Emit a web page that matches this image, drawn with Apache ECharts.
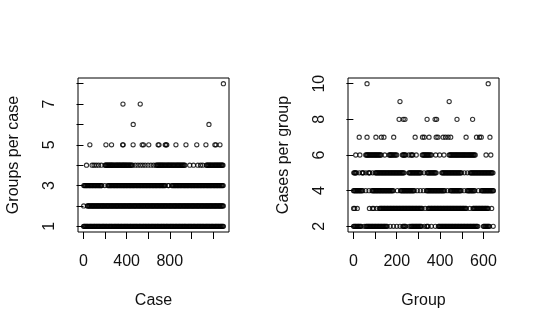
<!DOCTYPE html>
<html>
<head>
<meta charset="utf-8">
<script src="https://cdn.jsdelivr.net/npm/echarts@6/dist/echarts.min.js"></script>
<style>
  html, body { margin: 0; padding: 0; background: #fff; }
  #chart { width: 540px; height: 330px; }
</style>
</head>
<body>
<div id="chart"></div>
<script>
// ---------- Left panel: Groups per case (x = case index, grouped by y level) ----------
const casesWith1Group = [1, 7, 13, 20, 27, 33, 40, 48, 56, 62, 69, 76, 83, 90, 98, 104, 110, 118, 125, 132, 139, 145, 152, 160, 168, 174, 181, 187, 194, 201, 209, 215, 222, 230, 238, 244, 251, 257, 264, 272, 280, 286, 293, 300, 307, 314, 321, 327, 334, 342, 349, 355, 362, 370, 377, 384, 391, 397, 404, 411, 418, 426, 433, 439, 446, 453, 460, 468, 475, 481, 488, 495, 502, 510, 517, 523, 530, 537, 544, 552, 559, 565, 572, 579, 586, 593, 600, 606, 613, 621, 628, 635, 642, 648, 655, 663, 670, 677, 684, 690, 697, 704, 711, 719, 726, 732, 739, 746, 753, 761, 768, 774, 781, 788, 795, 803, 810, 816, 823, 830, 837, 845, 852, 858, 865, 872, 879, 886, 893, 899, 906, 914, 921, 928, 935, 941, 948, 955, 962, 970, 977, 983, 990, 997, 1004, 1012, 1019, 1025, 1032, 1039, 1046, 1054, 1061, 1067, 1074, 1081, 1088, 1095, 1102, 1108, 1115, 1123, 1130, 1137, 1144, 1150, 1157, 1164, 1171, 1179, 1186, 1192, 1199, 1206, 1213, 1221, 1228, 1234, 1241, 1248, 1255, 1263, 1270, 1276, 1283, 1290, 1297];
const casesWith2Groups = [2, 36, 42, 49, 56, 63, 71, 78, 84, 91, 98, 105, 112, 119, 126, 133, 139, 146, 154, 161, 168, 175, 181, 188, 195, 202, 210, 217, 223, 230, 237, 244, 252, 259, 265, 272, 279, 286, 294, 301, 307, 314, 321, 328, 336, 343, 349, 356, 363, 370, 377, 384, 390, 397, 405, 412, 419, 426, 432, 439, 446, 453, 461, 468, 474, 481, 488, 495, 503, 510, 516, 523, 530, 537, 544, 551, 557, 564, 572, 579, 586, 593, 599, 606, 613, 621, 628, 635, 641, 648, 655, 662, 670, 677, 683, 690, 697, 704, 712, 719, 725, 732, 739, 746, 753, 760, 766, 773, 781, 788, 795, 802, 808, 815, 822, 830, 837, 844, 850, 857, 864, 871, 879, 886, 892, 899, 906, 913, 921, 928, 934, 941, 948, 955, 962, 969, 975, 982, 990, 997, 1004, 1011, 1017, 1024, 1031, 1039, 1046, 1053, 1059, 1066, 1073, 1080, 1088, 1095, 1101, 1108, 1115, 1122, 1130, 1137, 1143, 1150, 1157, 1164, 1171, 1178, 1184, 1191, 1199, 1206, 1213, 1220, 1226, 1233, 1240, 1248, 1255, 1262, 1268, 1275, 1282, 1289, 1296];
const casesWith3Groups = [3, 10, 17, 24, 31, 38, 45, 53, 60, 67, 74, 81, 88, 96, 103, 109, 116, 124, 131, 138, 145, 152, 159, 165, 170, 198, 226, 233, 240, 247, 254, 261, 268, 276, 283, 290, 297, 304, 311, 318, 325, 332, 339, 347, 354, 361, 368, 375, 382, 389, 396, 403, 410, 418, 425, 432, 439, 446, 453, 460, 467, 474, 481, 489, 496, 503, 510, 517, 524, 531, 538, 545, 552, 560, 567, 574, 581, 588, 595, 602, 609, 616, 623, 631, 638, 645, 652, 659, 666, 673, 680, 687, 694, 702, 709, 716, 723, 730, 737, 744, 751, 758, 784, 790, 818, 826, 833, 840, 848, 855, 862, 869, 876, 883, 890, 897, 904, 911, 919, 926, 933, 940, 947, 954, 961, 968, 975, 982, 990, 997, 1004, 1011, 1018, 1025, 1032, 1039, 1046, 1053, 1061, 1068, 1075, 1082, 1089, 1096, 1103, 1110, 1117, 1124, 1132, 1139, 1146, 1153, 1160, 1167, 1174, 1181, 1188, 1195, 1203, 1210, 1217, 1224, 1231, 1238, 1245, 1252, 1259, 1266, 1274, 1281, 1288, 1295];
const casesWith4Groups = [28, 80, 98, 118, 140, 165, 200, 206, 212, 219, 225, 231, 238, 244, 250, 256, 262, 268, 275, 282, 290, 298, 305, 311, 318, 325, 332, 338, 345, 352, 360, 366, 372, 379, 386, 393, 400, 407, 415, 422, 430, 437, 445, 455, 480, 505, 528, 550, 572, 598, 625, 650, 672, 680, 688, 695, 702, 709, 716, 723, 730, 737, 745, 752, 760, 768, 776, 783, 790, 797, 805, 812, 820, 827, 835, 842, 850, 858, 866, 873, 880, 887, 895, 902, 910, 917, 925, 932, 940, 985, 1020, 1060, 1085, 1105, 1138, 1145, 1152, 1159, 1166, 1173, 1180, 1187, 1195, 1202, 1210, 1217, 1224, 1231, 1238, 1245, 1252, 1259, 1266, 1273, 1280, 1287, 1293];
const casesWith5Groups = [59, 208, 260, 363, 368, 460, 544, 556, 605, 692, 700, 758, 765, 772, 857, 950, 1050, 1135, 1218, 1228, 1265];
const casesWith6Groups = [461, 1163];
const casesWith7Groups = [366, 526];
const casesWith8Groups = [1297];

// ---------- Right panel: Cases per group (x = group index, grouped by y level) ----------
const groupsWith2Cases = [1, 4, 8, 11, 15, 18, 22, 25, 29, 32, 36, 50, 58, 61, 65, 68, 72, 75, 79, 82, 86, 89, 93, 96, 100, 103, 107, 110, 114, 117, 121, 124, 128, 131, 135, 138, 142, 145, 149, 152, 156, 170, 185, 200, 215, 228, 231, 235, 238, 242, 258, 265, 268, 272, 275, 279, 282, 286, 289, 293, 296, 300, 303, 307, 310, 314, 328, 338, 341, 345, 360, 378, 392, 395, 399, 402, 406, 409, 413, 416, 420, 423, 427, 430, 434, 437, 441, 444, 448, 451, 455, 458, 462, 465, 469, 472, 476, 479, 483, 486, 490, 493, 497, 500, 504, 507, 511, 514, 518, 521, 525, 528, 532, 535, 539, 542, 546, 549, 553, 556, 560, 563, 567, 570, 574, 600, 603, 607, 610, 614, 617, 621, 624, 628, 645];
const groupsWith3Cases = [1, 6, 18, 74, 88, 94, 108, 121, 124, 128, 131, 135, 138, 142, 145, 149, 152, 156, 159, 163, 166, 170, 173, 177, 180, 184, 187, 191, 194, 198, 201, 205, 208, 212, 215, 219, 222, 226, 229, 233, 236, 240, 243, 247, 250, 254, 257, 261, 264, 268, 271, 275, 278, 282, 285, 289, 292, 296, 299, 303, 306, 310, 313, 317, 331, 345, 348, 352, 355, 359, 362, 366, 369, 373, 376, 380, 383, 387, 390, 394, 397, 401, 404, 408, 411, 415, 418, 422, 425, 429, 432, 436, 439, 443, 446, 450, 453, 457, 460, 464, 467, 471, 474, 478, 481, 485, 488, 492, 495, 499, 502, 506, 509, 513, 517, 521, 537, 552, 555, 559, 562, 566, 569, 573, 576, 580, 583, 587, 590, 594, 597, 601, 604, 608, 611, 615, 618, 622, 638];
const groupsWith4Cases = [1, 4, 8, 11, 15, 18, 22, 25, 29, 32, 36, 39, 43, 57, 72, 86, 89, 93, 96, 100, 103, 107, 110, 114, 117, 121, 124, 128, 131, 135, 138, 142, 145, 149, 152, 156, 159, 163, 166, 170, 173, 177, 180, 184, 203, 218, 221, 225, 228, 232, 235, 239, 242, 246, 249, 253, 256, 260, 263, 267, 270, 274, 277, 281, 295, 309, 323, 337, 340, 344, 347, 351, 354, 358, 361, 365, 368, 372, 375, 379, 382, 386, 389, 393, 396, 400, 403, 407, 410, 414, 417, 421, 434, 448, 451, 455, 458, 462, 465, 469, 472, 476, 479, 483, 486, 490, 493, 497, 511, 525, 528, 532, 535, 539, 542, 546, 549, 553, 556, 560, 577, 591, 594, 598, 601, 605, 608, 612, 615, 619, 622, 626, 629, 633, 636, 640, 643, 646];
const groupsWith5Cases = [2, 5, 8, 11, 14, 27, 40, 43, 46, 58, 70, 73, 76, 89, 101, 104, 108, 111, 115, 118, 122, 125, 129, 132, 136, 139, 143, 146, 150, 153, 157, 160, 164, 167, 171, 174, 178, 181, 185, 188, 192, 195, 199, 202, 206, 209, 213, 216, 220, 223, 227, 230, 234, 256, 259, 263, 266, 270, 273, 277, 280, 284, 287, 291, 294, 298, 301, 305, 308, 312, 326, 340, 343, 347, 350, 354, 357, 361, 364, 368, 371, 375, 378, 382, 408, 411, 415, 418, 422, 425, 429, 432, 436, 439, 443, 446, 450, 453, 457, 460, 464, 467, 471, 474, 478, 481, 485, 488, 492, 495, 499, 512, 526, 539, 542, 546, 549, 553, 556, 560, 563, 567, 570, 574, 577, 581, 584, 588, 591, 595, 598, 602, 605, 609, 612, 616, 619, 623, 626, 630, 633, 637, 640, 644];
const groupsWith6Cases = [11, 30, 57, 61, 64, 68, 72, 76, 80, 84, 88, 92, 96, 100, 104, 108, 112, 116, 120, 124, 128, 145, 165, 169, 172, 176, 180, 185, 190, 195, 200, 226, 230, 233, 237, 241, 256, 266, 270, 274, 290, 318, 322, 326, 330, 334, 338, 342, 346, 350, 355, 360, 380, 398, 418, 442, 446, 450, 454, 458, 462, 466, 470, 474, 478, 482, 486, 490, 494, 498, 502, 506, 510, 514, 518, 522, 526, 530, 534, 538, 542, 546, 550, 554, 558, 562, 612, 634];
const groupsWith7Cases = [27, 63, 104, 129, 141, 186, 285, 319, 327, 349, 382, 390, 414, 425, 437, 449, 520, 568, 582, 590, 630];
const groupsWith8Cases = [211, 230, 238, 340, 377, 384, 478, 550];
const groupsWith9Cases = [215, 442];
const groupsWith10Cases = [63, 622];

// ---------- Axis ticks and labels ----------
const leftXTicks = [0, 200, 400, 600, 800, 1000, 1200];
const leftXLabels = [0, 400, 800];
const leftYTicks = [1, 2, 3, 4, 5, 6, 7, 8];
const leftYLabels = [1, 3, 5, 7];
const rightXTicks = [0, 100, 200, 300, 400, 500, 600];
const rightXLabels = [0, 200, 400, 600];
const rightYTicks = [2, 4, 6, 8, 10];
const rightYLabels = [2, 4, 6, 8, 10];

const leftLevels = [casesWith1Group, casesWith2Groups, casesWith3Groups, casesWith4Groups,
                    casesWith5Groups, casesWith6Groups, casesWith7Groups, casesWith8Groups];
const leftLevelValues = [1, 2, 3, 4, 5, 6, 7, 8];
const rightLevels = [groupsWith2Cases, groupsWith3Cases, groupsWith4Cases, groupsWith5Cases,
                     groupsWith6Cases, groupsWith7Cases, groupsWith8Cases, groupsWith9Cases, groupsWith10Cases];
const rightLevelValues = [2, 3, 4, 5, 6, 7, 8, 9, 10];

function toPoints(levels, values) {
  const pts = [];
  levels.forEach((arr, i) => arr.forEach(x => pts.push([x, values[i]])));
  return pts;
}
function extRange(vals) {
  const mn = Math.min(...vals), mx = Math.max(...vals);
  const d = (mx - mn) * 0.04;
  return [mn - d, mx + d];
}

const leftPts = toPoints(leftLevels, leftLevelValues);
const rightPts = toPoints(rightLevels, rightLevelValues);
const lx = extRange(leftPts.map(p => p[0]));
const ly = extRange(leftPts.map(p => p[1]));
const rx = extRange(rightPts.map(p => p[0]));
const ry = extRange(rightPts.map(p => p[1]));

const FONT = 'Liberation Sans, Arial, sans-serif';
const TXT = '#111';

function xAxisCfg(idx, range, ticks, labels, name) {
  return {
    type: 'value', gridIndex: idx, min: range[0], max: range[1],
    name: name, nameLocation: 'middle', nameGap: 61,
    nameTextStyle: { fontFamily: FONT, fontSize: 16, color: TXT },
    axisLine: { show: false },
    axisTick: { show: true, length: 7, customValues: ticks, lineStyle: { color: '#000', width: 1 } },
    axisLabel: { show: true, customValues: labels, margin: 22, fontFamily: FONT, fontSize: 16, color: TXT },
    splitLine: { show: false }
  };
}
function yAxisCfg(idx, range, ticks, labels, name) {
  return {
    type: 'value', gridIndex: idx, min: range[0], max: range[1],
    name: name, nameLocation: 'middle', nameGap: 56,
    nameTextStyle: { fontFamily: FONT, fontSize: 16, color: TXT },
    axisLine: { show: false },
    axisTick: { show: true, length: 7, customValues: ticks, lineStyle: { color: '#000', width: 1 } },
    axisLabel: { show: true, customValues: labels, rotate: 90, margin: 20, fontFamily: FONT, fontSize: 16, color: TXT },
    splitLine: { show: false }
  };
}

const pointStyle = { color: 'rgba(255,255,255,0)', borderColor: '#000', borderWidth: 1.1 };

const chart = echarts.init(document.getElementById('chart'), null, { renderer: 'canvas' });
chart.setOption({
  backgroundColor: '#fff',
  animation: false,
  grid: [
    { left: 78, top: 78, width: 151, height: 154, show: true, borderColor: '#000', borderWidth: 1, backgroundColor: 'transparent' },
    { left: 348, top: 78, width: 151, height: 154, show: true, borderColor: '#000', borderWidth: 1, backgroundColor: 'transparent' }
  ],
  xAxis: [
    xAxisCfg(0, lx, leftXTicks, leftXLabels, 'Case'),
    xAxisCfg(1, rx, rightXTicks, rightXLabels, 'Group')
  ],
  yAxis: [
    yAxisCfg(0, ly, leftYTicks, leftYLabels, 'Groups per case'),
    yAxisCfg(1, ry, rightYTicks, rightYLabels, 'Cases per group')
  ],
  series: [
    { type: 'scatter', xAxisIndex: 0, yAxisIndex: 0, data: leftPts, symbol: 'circle', symbolSize: 4.2, itemStyle: pointStyle, silent: true, large: false, progressive: 0 },
    { type: 'scatter', xAxisIndex: 1, yAxisIndex: 1, data: rightPts, symbol: 'circle', symbolSize: 4.2, itemStyle: pointStyle, silent: true, large: false, progressive: 0 }
  ]
});
</script>
</body>
</html>
